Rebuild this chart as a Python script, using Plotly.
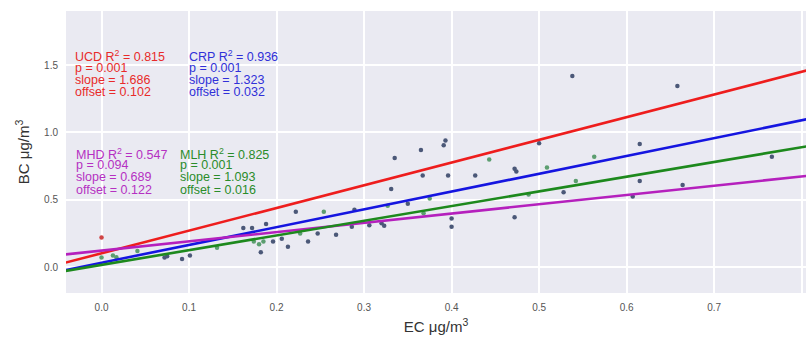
import plotly.graph_objects as go

# ---------------- data ----------------
blue_x = [0.072, 0.075, 0.092, 0.101, 0.162, 0.172, 0.182, 0.188, 0.196, 0.206,
          0.213, 0.222, 0.236, 0.247, 0.268, 0.286, 0.289, 0.306, 0.320, 0.323,
          0.331, 0.335, 0.350, 0.365, 0.367, 0.391, 0.393, 0.396, 0.400, 0.400,
          0.427, 0.472, 0.474, 0.472, 0.500, 0.528, 0.538, 0.607, 0.615, 0.615,
          0.658, 0.664, 0.766]
blue_y = [0.07, 0.08, 0.06, 0.085, 0.29, 0.29, 0.11, 0.32, 0.19, 0.21,
          0.15, 0.41, 0.19, 0.25, 0.24, 0.30, 0.425, 0.31, 0.326, 0.306,
          0.58, 0.81, 0.47, 0.87, 0.68, 0.905, 0.94, 0.68, 0.36, 0.30,
          0.68, 0.73, 0.71, 0.37, 0.92, 0.555, 1.42, 0.525, 0.915, 0.64,
          1.345, 0.61, 0.82]

green_x = [0.0, 0.013, 0.017, 0.041, 0.132, 0.174, 0.180, 0.185, 0.227, 0.254,
           0.327, 0.368, 0.375, 0.443, 0.488, 0.509, 0.542, 0.563]
green_y = [0.07, 0.085, 0.072, 0.12, 0.144, 0.19, 0.17, 0.19, 0.25, 0.41,
           0.455, 0.40, 0.51, 0.80, 0.54, 0.74, 0.64, 0.82]

red_x = [0.0]
red_y = [0.22]

sites = ["UCD", "CRP", "MHD", "MLH"]
r2 = ["0.815", "0.936", "0.547", "0.825"]
pvals = ["0.001", "0.001", "0.094", "0.001"]
slopes = [1.686, 1.323, 0.689, 1.093]
offsets = [0.102, 0.032, 0.122, 0.016]

x_range = [-0.0406, 0.805]
y_range = [-0.193, 1.903]
x_ticks = [0.0, 0.1, 0.2, 0.3, 0.4, 0.5, 0.6, 0.7, 0.8]
x_ticklabels = ["0.0", "0.1", "0.2", "0.3", "0.4", "0.5", "0.6", "0.7", "0.8"]
y_ticks = [0.0, 0.5, 1.0, 1.5]
y_ticklabels = ["0.0", "0.5", "1.0", "1.5"]

# ---------------- style ----------------
line_colors = {"UCD": "#ee1d1d", "CRP": "#1515e0", "MHD": "#b520bd", "MLH": "#1d891d"}
text_colors = {"UCD": "#e82a2a", "CRP": "#3030d8", "MHD": "#b530c2", "MLH": "#2a8c2a"}
FONT = "Liberation Sans, Arial, sans-serif"

W, H = 806, 338
ML, MR, MT, MB = 66, 0, 11, 45
pw, ph = W - ML - MR, H - MT - MB

def px2paper(px, py):
    return (px - ML) / pw, (H - MB - py) / ph

fig = go.Figure()

fig.add_trace(go.Scatter(x=blue_x, y=blue_y, mode="markers",
                         marker=dict(size=4.5, color="#4b5878"), showlegend=False))
fig.add_trace(go.Scatter(x=green_x, y=green_y, mode="markers",
                         marker=dict(size=4.5, color="#5c9e70"), showlegend=False))
fig.add_trace(go.Scatter(x=red_x, y=red_y, mode="markers",
                         marker=dict(size=4.5, color="#d04545"), showlegend=False))

line_x = [-0.06, 0.82]
for s, m, b in zip(sites, slopes, offsets):
    fig.add_trace(go.Scatter(x=line_x, y=[m * xx + b for xx in line_x], mode="lines",
                             line=dict(color=line_colors[s], width=2.6),
                             showlegend=False, hoverinfo="skip"))

# annotation blocks (pixel positions of block left and line centres)
block_pos = {
    "UCD": (74, [53, 68, 80, 92]),
    "CRP": (188, [53, 68, 80, 92]),
    "MHD": (75, [151, 165, 177, 190]),
    "MLH": (179, [151, 165, 177, 190]),
}
annotations = []
for s, r, p, m, b in zip(sites, r2, pvals, slopes, offsets):
    lines = [f"{s} R<sup>2</sup> = {r}", f"p = {p}", f"slope = {m:.3f}", f"offset = {b:.3f}"]
    bx, ys = block_pos[s]
    for i, (t, yy) in enumerate(zip(lines, ys)):
        ax_, ay_ = px2paper(bx, yy)
        annotations.append(dict(
            text=t, x=ax_, y=ay_, xref="paper", yref="paper",
            xanchor="left", yanchor="middle", showarrow=False,
            yshift=(-3 if i == 0 else 0),
            font=dict(family=FONT, size=12.5, color=text_colors[s]),
            borderpad=0,
        ))

fig.update_layout(
    width=W, height=H,
    margin=dict(l=ML, r=MR, t=MT, b=MB),
    paper_bgcolor="white",
    plot_bgcolor="#eaeaf2",
    font=dict(family=FONT, color="#444444"),
    annotations=annotations,
    showlegend=False,
)
fig.update_xaxes(
    range=x_range, tickvals=x_ticks, ticktext=x_ticklabels,
    showgrid=True, gridcolor="white", gridwidth=1.6, zeroline=False,
    showline=False, ticks="", ticklabelstandoff=7,
    tickfont=dict(size=10, color="#555555", family=FONT),
    title=dict(text="EC μg/m<sup>3</sup>", font=dict(size=15, color="#333333", family=FONT), standoff=9),
    automargin=False,
)
fig.update_yaxes(
    range=y_range, tickvals=y_ticks, ticktext=y_ticklabels,
    showgrid=True, gridcolor="white", gridwidth=1.6, zeroline=False,
    showline=False, ticks="", ticklabelstandoff=7,
    tickfont=dict(size=10, color="#555555", family=FONT),
    title=dict(text="BC μg/m<sup>3</sup>", font=dict(size=15, color="#333333", family=FONT), standoff=10),
    automargin=False,
)

fig.write_html("out.html")
